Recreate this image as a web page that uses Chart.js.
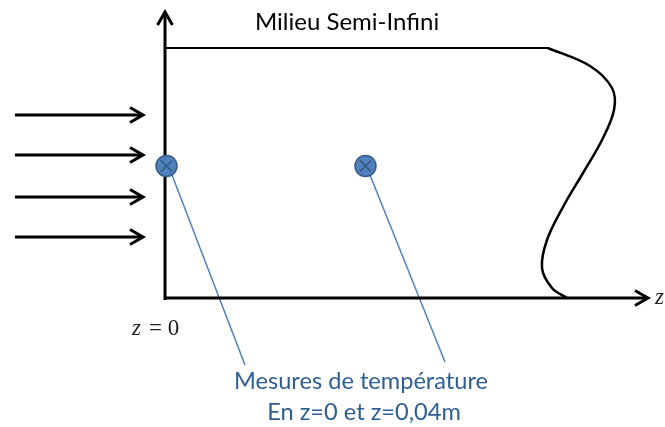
<!DOCTYPE html>
<html>
<head>
<meta charset="utf-8">
<script src="https://cdn.jsdelivr.net/npm/chart.js@4.4.0/dist/chart.umd.min.js"></script>
<style>
  html, body { margin: 0; padding: 0; background: #fff; }
  #wrap { width: 665px; height: 427px; position: relative; }
</style>
</head>
<body>
<div id="wrap"><canvas id="schema"></canvas></div>
<script>
// depth z (m) on the horizontal axis, height h (arbitrary units) on the vertical one
const verticalAxisZ = [0, 0];
const verticalAxisH = [-2, 286];
const horizontalAxisZ = [0, 0.0966];
const horizontalAxisH = [0, 0];
const topBoundZ = [0, 0.0766];
const topBoundH = [250, 250];
const farBoundZ = [0.0766, 0.0850, 0.0894, 0.0898, 0.0874, 0.0836, 0.0796, 0.0764, 0.0754, 0.0774, 0.0804];
const farBoundH = [250, 232, 210, 188, 158, 125, 91, 58, 30, 10, 0];
const fluxStartZ = -0.030;
const fluxEndZ = -0.0044;
const fluxH = [183, 143, 101, 61];
const sensorZ = [0.0003, 0.0401];
const sensorH = [132, 132];
const leaderStartZ = [0.0014, 0.0410];
const leaderStartH = [123, 123];
const leaderEndZ = [0.0160, 0.0560];
const leaderEndH = [-67, -64];

const pts = (zs, hs) => zs.map((z, i) => ({ x: z, y: hs[i] }));

const black = '#000000';
const blueFill = '#4f81bd';
const blueEdge = '#385d8a';
const blueText = '#2f5d95';

const lineSet = (data, width, extra) => Object.assign({
    data, showLine: true, borderColor: black, borderWidth: width,
    pointRadius: 0, tension: 0, fill: false, clip: false, order: 2
}, extra || {});

const datasets = [
    lineSet(pts(verticalAxisZ, verticalAxisH), 3, { arrowHead: true }),
    lineSet(pts(horizontalAxisZ, horizontalAxisH), 3, { arrowHead: true }),
    lineSet(pts(topBoundZ, topBoundH), 2),
    lineSet(pts(farBoundZ, farBoundH), 2.5, { tension: 0.35 }),
    ...fluxH.map(h => lineSet([{ x: fluxStartZ, y: h }, { x: fluxEndZ, y: h }], 3, { arrowHead: true })),
    ...leaderStartZ.map((z, i) => lineSet(
        [{ x: z, y: leaderStartH[i] }, { x: leaderEndZ[i], y: leaderEndH[i] }],
        1.5, { borderColor: blueFill })),
    {
        data: pts(sensorZ, sensorH), showLine: false, pointRadius: 10.5, order: 1,
        backgroundColor: blueFill, borderColor: blueEdge, borderWidth: 1.5, clip: false
    },
    {
        data: pts(sensorZ, sensorH), showLine: false, pointStyle: 'crossRot', pointRadius: 8, order: 0,
        borderColor: blueEdge, borderWidth: 1.6, clip: false
    }
];

const arrowHeads = {
    id: 'arrowHeads',
    afterDatasetsDraw(chart) {
        const ctx = chart.ctx;
        chart.data.datasets.forEach((ds, i) => {
            if (!ds.arrowHead) return;
            const els = chart.getDatasetMeta(i).data;
            const a = els[els.length - 2], b = els[els.length - 1];
            const ang = Math.atan2(b.y - a.y, b.x - a.x);
            const len = 15, spread = 0.52;
            ctx.save();
            ctx.strokeStyle = ds.borderColor;
            ctx.lineWidth = ds.borderWidth;
            ctx.lineJoin = 'miter';
            ctx.beginPath();
            ctx.moveTo(b.x - len * Math.cos(ang - spread), b.y - len * Math.sin(ang - spread));
            ctx.lineTo(b.x, b.y);
            ctx.lineTo(b.x - len * Math.cos(ang + spread), b.y - len * Math.sin(ang + spread));
            ctx.stroke();
            ctx.restore();
        });
    }
};

const labels = {
    id: 'labels',
    afterDraw(chart, args, opts) {
        const ctx = chart.ctx, sx = chart.scales.x, sy = chart.scales.y;
        opts.items.forEach(t => {
            ctx.save();
            ctx.font = t.font;
            ctx.fillStyle = t.color;
            ctx.textAlign = t.align;
            ctx.textBaseline = 'alphabetic';
            ctx.fillText(t.text, sx.getPixelForValue(t.z), sy.getPixelForValue(t.h));
            ctx.restore();
        });
    }
};

new Chart(document.getElementById('schema'), {
    type: 'scatter',
    data: { datasets },
    options: {
        responsive: true,
        maintainAspectRatio: false,
        animation: false,
        events: [],
        layout: { padding: 0, autoPadding: false },
        scales: {
            x: { type: 'linear', display: false, min: -0.033, max: 0.1 },
            y: { type: 'linear', display: false, min: -129, max: 298 }
        },
        plugins: {
            legend: { display: false },
            tooltip: { enabled: false },
            labels: {
                items: [
                    { text: 'Milieu Semi-Infini', z: 0.018, h: 268, align: 'left', font: '24px Lato', color: black },
                    { text: 'z', z: -0.0066, h: -37, align: 'left', font: 'italic 23px "Liberation Serif"', color: '#222' },
                    { text: '= 0', z: -0.0032, h: -37, align: 'left', font: '23px "Liberation Serif"', color: '#222' },
                    { text: 'z', z: 0.0980, h: -6, align: 'left', font: 'italic 23px "Liberation Serif"', color: '#222' },
                    { text: 'Mesures de température', z: 0.0392, h: -91, align: 'center', font: '23.6px Lato', color: blueText },
                    { text: 'En z=0 et z=0,04m', z: 0.0398, h: -122, align: 'center', font: '23.6px Lato', color: blueText }
                ]
            }
        }
    },
    plugins: [arrowHeads, labels]
});
</script>
</body>
</html>
